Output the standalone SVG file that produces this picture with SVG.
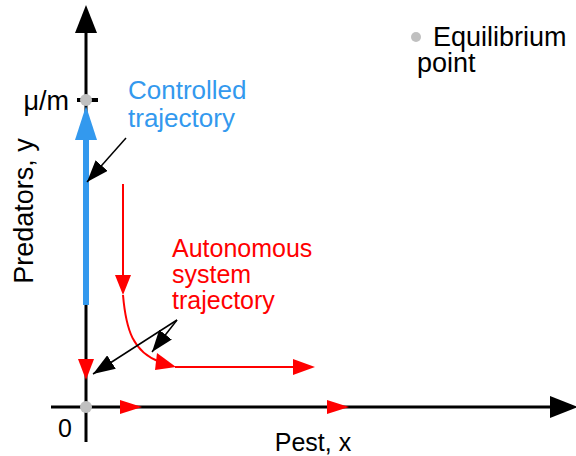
<svg xmlns="http://www.w3.org/2000/svg" width="576" height="456" viewBox="0 0 576 456">
<style>
text{font-family:"Liberation Sans",Arial,sans-serif;font-size:25px}
.big{font-size:27px}
.blk{fill:#000}
.red{fill:#ff0000}
.blu{fill:#3399ee;font-size:26px}
.dot{fill:#c0c0c0}
.rl{stroke:#ff0000;stroke-width:2;fill:none}
.pt{stroke:#000;stroke-width:1.5;fill:none}
</style>
<defs>
<marker id="ah" viewBox="0 0 22 16" refX="22" refY="8" markerWidth="22" markerHeight="16" markerUnits="userSpaceOnUse" orient="auto">
<path d="M0,0L22,8L0,16z" fill="#000"/>
</marker>
</defs>
<g id="axes">
<line x1="86" y1="30" x2="86" y2="442" stroke="#000" stroke-width="3"/>
<path d="M75,33L86,5L97,33z" class="blk"/>
<line x1="51" y1="407" x2="552" y2="407" stroke="#000" stroke-width="3"/>
<path d="M550,396L578,407L550,418z" class="blk"/>
<line x1="77" y1="100" x2="98" y2="100" stroke="#000" stroke-width="4"/>
<text x="58" y="437">0</text>
<text class="big" x="69" y="110" text-anchor="end">μ/m</text>
<text x="313" y="451" text-anchor="middle">Pest, x</text>
<text class="big" transform="translate(33,211) rotate(-90)" text-anchor="middle">Predators, y</text>
</g>
<g id="controlled">
<line x1="86" y1="305" x2="86" y2="138" stroke="#3399ee" stroke-width="6"/>
<path d="M75,140L86,106L97,140z" fill="#3399ee"/>
<text class="blu" x="128" y="99">Controlled</text>
<text class="blu" x="128" y="127">trajectory</text>
</g>
<g id="autonomous">
<line x1="123" y1="184" x2="123" y2="277" class="rl"/>
<path d="M115,275L123,295L131,275z" class="red"/>
<path d="M123,295C126,330 133,352 160,362" class="rl"/>
<path d="M157,353L176,367L155,370z" class="red"/>
<line x1="175" y1="367" x2="295" y2="367" class="rl"/>
<path d="M293,359L315,367L293,375z" class="red"/>
<path d="M78,359L86,380L94,359z" class="red"/>
<path d="M120,400L142,407L120,414z" class="red"/>
<path d="M327,400L349,407L327,414z" class="red"/>
<text class="red" x="172" y="257">Autonomous</text>
<text class="red" x="172" y="283">system</text>
<text class="red" x="172" y="309">trajectory</text>
</g>
<g id="equilibria">
<circle cx="86" cy="100" r="6" class="dot"/>
<circle cx="86" cy="407" r="6" class="dot"/>
</g>
<g id="legend">
<circle cx="416" cy="37" r="5" class="dot"/>
<text class="big" x="433" y="46">Equilibrium</text>
<text class="big" x="417" y="72">point</text>
</g>
<g id="connectors">
<line x1="126" y1="138" x2="87" y2="182" class="pt" marker-end="url(#ah)"/>
<line x1="177" y1="320" x2="93" y2="374" class="pt" marker-end="url(#ah)"/>
<line x1="177" y1="320" x2="152" y2="352" class="pt" marker-end="url(#ah)"/>
</g>
</svg>
